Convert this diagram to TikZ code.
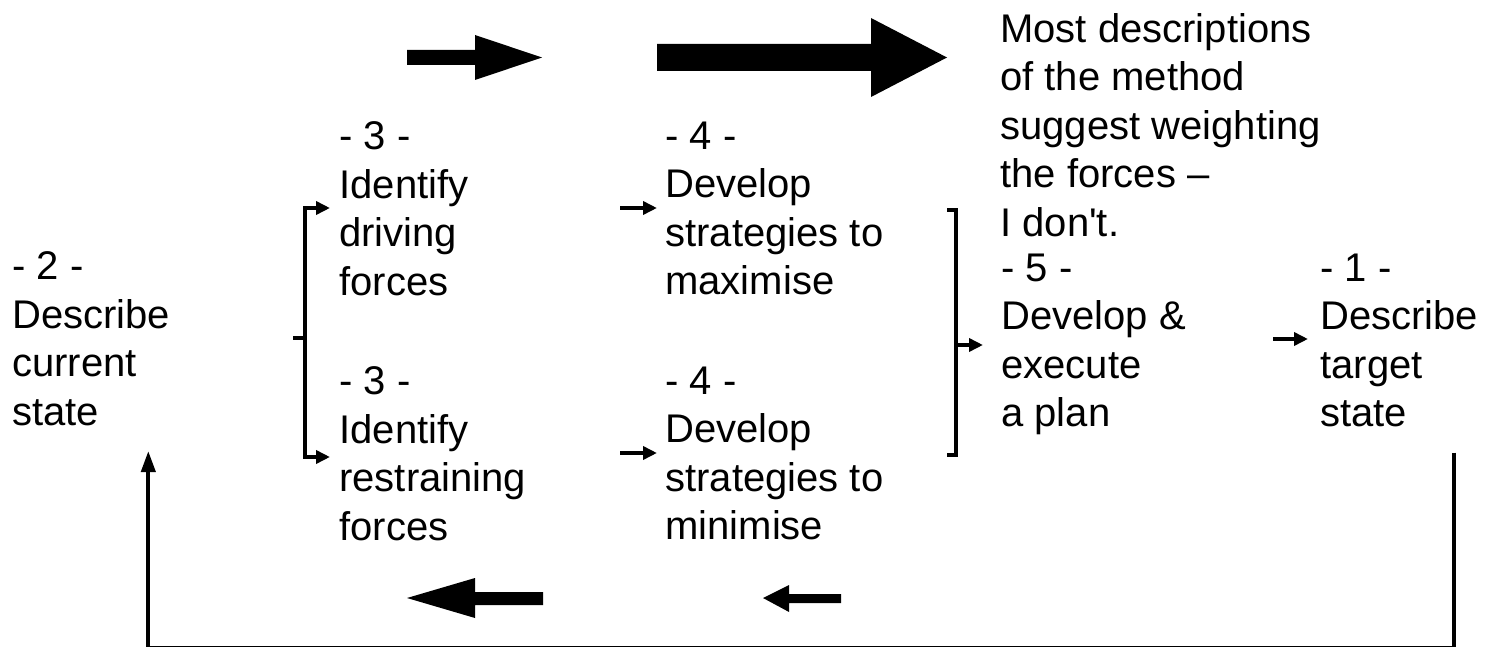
\documentclass[tikz,border=0pt]{standalone}
\usepackage{fontspec}
\newfontfamily\diagfont{Liberation Sans}
\usetikzlibrary{arrows.meta,calc,positioning}

\begin{document}
\begin{tikzpicture}[x=0.5pt,y=-0.5pt,
    stagetext/.style={inner sep=0pt,anchor=north west,align=left,
                      font=\diagfont\fontsize{20}{24.25}\selectfont},
    bar/.style={line width=1.8pt,line join=miter},
    link/.style={bar,-{Triangle[length=7pt,width=6.5pt]}},
    loop/.style={line width=2pt,-{Triangle[length=10.5pt,width=7pt]}}
  ]
    \useasboundingbox[fill=white] (0,0) rectangle (1485,647);
    \node[stagetext] (cur) at (12,251.4) {- 2 -\\Describe\\current\\state};
    \node[stagetext] (drive) at (339,121.4) {- 3 -\\Identify\\driving\\forces};
    \node[stagetext] (restr) at (339,366.4) {- 3 -\\Identify\\restraining\\forces};
    \node[stagetext] (maxi) at (665,121.4) {- 4 -\\Develop\\strategies to\\maximise};
    \node[stagetext] (mini) at (665,366.4) {- 4 -\\Develop\\strategies to\\minimise};
    \node[stagetext] (plan) at (1001,253.4) {- 5 -\\Develop \&\\execute\\a plan};
    \node[stagetext] (target) at (1320,253.4) {- 1 -\\Describe\\target\\state};
    \node[stagetext] (note) at (1000,13) {Most descriptions\\of the method\\suggest weighting\\the forces –\\I don't.};
    \coordinate (forkin) at (293,338);
    \coordinate (fork) at (305,338);
    \coordinate (join) at (956,345);
    \coordinate (loopR) at ($(target.south east)+(-25,25)$);
    \coordinate (loopL) at ($(cur.south)+(57,25)$);
    \draw[bar] (forkin) -- (fork);
    \draw[link] (fork) |- ($(drive.north west)+(-9,86.6)$);
    \draw[link] (fork) |- ($(restr.north west)+(-9,90.6)$);
    \draw[link] ($(maxi.north west)+(-45,86.6)$) -- ($(maxi.north west)+(-8,86.6)$);
    \draw[link] ($(mini.north west)+(-45,86.6)$) -- ($(mini.north west)+(-8,86.6)$);
    \draw[bar] ($(join)+(-9,-135)$) -| (join) |- ($(join)+(-9,110)$);
    \draw[link] (join) -- ($(plan.north west)+(-18,91.6)$);
    \draw[link] ($(target.north west)+(-47,85.6)$) -- ($(target.north west)+(-12,85.6)$);
    \draw[loop] (loopR) -- (loopR |- 0,648) -- (loopL |- 0,648) -- (loopL);
    \fill (407,50) -- (475,50) -- (475,35) -- (542,57.5) -- (475,80) -- (475,65) -- (407,65) -- cycle;
    \fill (657,44) -- (871,44) -- (871,18) -- (947,57.5) -- (871,97) -- (871,71) -- (657,71) -- cycle;
    \fill (407,598) -- (475,578) -- (475,592) -- (543,592) -- (543,605) -- (475,605) -- (475,618) -- cycle;
    \fill (763,598) -- (789,585) -- (789,594) -- (841,594) -- (841,603) -- (789,603) -- (789,612) -- cycle;
\end{tikzpicture}
\end{document}
